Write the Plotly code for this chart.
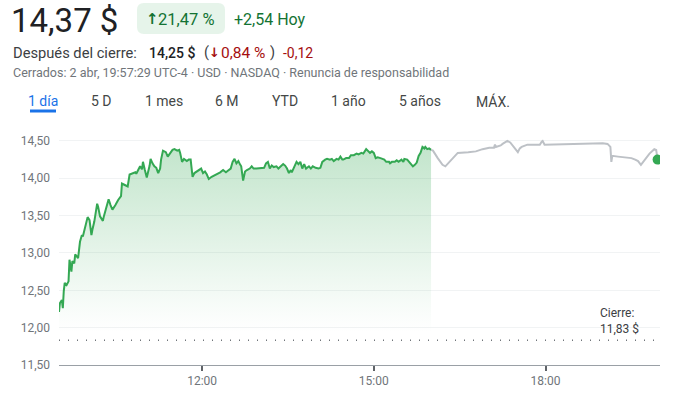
import plotly.graph_objects as go

# ---------------- data ----------------
DAY = "2025-04-02"
reg_times = ["09:30","09:31","09:33","09:34","09:35","09:36","09:38","09:40","09:41","09:43","09:44","09:46","09:47","09:50",
             "09:52","09:54","09:55","09:57","10:00","10:02","10:04","10:05","10:07","10:10","10:11","10:13","10:16","10:17",
             "10:20","10:22","10:24","10:26","10:29","10:30","10:32","10:35","10:36","10:39","10:42","10:44","10:47","10:50",
             "10:51","10:53","10:55","10:57","10:58","11:00","11:02","11:05","11:06","11:08","11:10","11:12","11:14","11:16",
             "11:17","11:19","11:22","11:24","11:27","11:29","11:31","11:34","11:36","11:37","11:39","11:41","11:44","11:46",
             "11:48","11:50","11:52","11:55","11:57","11:59","12:01","12:03","12:05","12:07","12:10","12:13","12:17","12:19",
             "12:22","12:25","12:27","12:30","12:32","12:34","12:36","12:38","12:40","12:41","12:43","12:45","12:47","12:50",
             "12:52","12:54","12:57","12:59","13:02","13:05","13:07","13:09","13:11","13:13","13:15","13:18","13:20","13:22",
             "13:25","13:27","13:29","13:31","13:33","13:34","13:36","13:39","13:41","13:43","13:45","13:47","13:49","13:52",
             "13:54","13:56","13:59","14:02","14:04","14:06","14:09","14:11","14:14","14:16","14:18","14:21","14:23","14:25",
             "14:27","14:28","14:31","14:34","14:36","14:39","14:42","14:44","14:47","14:49","14:52","14:54","14:56","14:58",
             "15:00","15:02","15:04","15:07","15:10","15:11","15:13","15:16","15:17","15:19","15:22","15:24","15:26","15:29",
             "15:31","15:32","15:35","15:37","15:39","15:41","15:43","15:45","15:47","15:49","15:51","15:53","15:54","15:56",
             "15:58","16:00"]
reg_prices = [12.21,12.33,12.37,12.26,12.49,12.60,12.57,12.62,12.91,12.75,12.89,12.86,12.98,12.93,
              13.15,13.24,13.22,13.31,13.48,13.44,13.24,13.31,13.42,13.66,13.62,13.49,13.43,13.49,
              13.64,13.72,13.64,13.58,13.64,13.67,13.71,13.76,13.93,13.91,13.89,14.05,14.07,14.08,
              14.06,14.11,14.16,14.12,14.22,14.11,14.01,14.17,14.26,14.20,14.16,14.14,14.07,14.13,
              14.25,14.37,14.35,14.29,14.34,14.38,14.39,14.37,14.38,14.34,14.22,14.26,14.23,14.25,
              14.25,14.02,14.07,14.10,14.11,14.13,14.07,14.09,14.05,13.99,14.02,14.04,14.06,14.08,
              14.11,14.08,14.10,14.13,14.22,14.26,14.20,14.23,14.18,14.16,13.97,14.09,14.11,14.13,
              14.16,14.13,14.13,14.13,14.13,14.14,14.20,14.22,14.13,14.17,14.15,14.16,14.13,14.16,
              14.19,14.17,14.13,14.07,14.11,14.08,14.13,14.22,14.19,14.22,14.13,14.19,14.13,14.16,
              14.13,14.16,14.14,14.13,14.14,14.22,14.25,14.26,14.25,14.26,14.23,14.26,14.25,14.29,
              14.25,14.25,14.27,14.27,14.31,14.31,14.33,14.32,14.34,14.33,14.39,14.36,14.34,14.36,
              14.34,14.27,14.28,14.27,14.26,14.25,14.22,14.22,14.20,14.22,14.22,14.24,14.22,14.25,
              14.22,14.26,14.25,14.22,14.20,14.16,14.18,14.21,14.30,14.34,14.42,14.40,14.42,14.39,
              14.40,14.38]

ah_times = ["16:00","16:02","16:07","16:12","16:15","16:19","16:25","16:28","16:39","16:47","16:54","17:01","17:06",
            "17:07","17:08","17:13","17:15","17:20","17:23","17:27","17:31","17:33","17:35","17:41","17:54","17:56",
            "17:57","17:59","18:20","18:41","19:00","19:05","19:08","19:09","19:10","19:16","19:23","19:30","19:34",
            "19:37","19:40","19:44","19:49","19:54","19:56","19:57:29"]
ah_prices = [14.38,14.37,14.27,14.18,14.16,14.22,14.31,14.34,14.35,14.36,14.39,14.41,14.41,
             14.45,14.42,14.44,14.46,14.50,14.48,14.42,14.35,14.40,14.42,14.45,14.45,14.49,
             14.50,14.45,14.46,14.47,14.47,14.46,14.42,14.22,14.30,14.29,14.28,14.27,14.25,
             14.23,14.18,14.25,14.33,14.39,14.38,14.25]

prev_close = 11.83
last_close = 14.37
change_pct = 21.47
change_abs = 2.54
ah_price = 14.25
ah_pct = -0.84
ah_abs = -0.12

y_ticks = [11.5, 12.0, 12.5, 13.0, 13.5, 14.0, 14.5]
x_ticks = ["12:00", "15:00", "18:00"]
tabs = ["1 día", "5 D", "1 mes", "6 M", "YTD", "1 año", "5 años", "MÁX."]
info_line = "Cerrados: 2 abr, 19:57:29 UTC-4 · USD · NASDAQ · Renuncia de responsabilidad"

def ts(t):
    return f"{DAY} {t}" if len(t) > 5 else f"{DAY} {t}:00"

def es(v):
    return f"{v:.2f}".replace(".", ",")

# ---------------- figure ----------------
GREEN = "#34a853"
FONT = "Roboto, Arial, sans-serif"
ARROW_FONT = "DejaVu Sans, sans-serif"
W, H = 684, 395
PL, PR, PT, PB = 59, 660, 126, 365

def px(x):
    return (x - PL) / (PR - PL)

def py(y):
    return (PB - y) / (PB - PT)

fig = go.Figure()

fig.add_trace(go.Scatter(
    x=[ts(t) for t in reg_times], y=reg_prices, mode="lines",
    line=dict(color=GREEN, width=2), fill="tozeroy",
    fillgradient=dict(type="vertical", start=11.95, stop=14.45,
                      colorscale=[[0, "rgba(52,168,83,0)"], [0.15, "rgba(52,168,83,0.04)"],
                                  [1, "rgba(52,168,83,0.30)"]]),
    hoverinfo="skip", showlegend=False))

fig.add_trace(go.Scatter(
    x=[ts(t) for t in ah_times], y=ah_prices, mode="lines",
    line=dict(color="#bdc1c6", width=2), hoverinfo="skip", showlegend=False))

fig.add_trace(go.Scatter(
    x=[ts(ah_times[-1])], y=[ah_price], mode="markers",
    marker=dict(color=GREEN, size=10), hoverinfo="skip", showlegend=False))

shapes = []
# previous close dotted line
shapes.append(dict(type="line", xref="paper", yref="y", x0=0, x1=0.995, y0=prev_close, y1=prev_close,
                   line=dict(color="#70757a", width=1.5, dash="1px,8px")))

# rounded pill behind percent change
def rounded_rect(x0, y0, x1, y1, r):
    p = [f"M{px(x0 + r)},{py(y0)}", f"L{px(x1 - r)},{py(y0)}", f"Q{px(x1)},{py(y0)} {px(x1)},{py(y0 + r)}",
         f"L{px(x1)},{py(y1 - r)}", f"Q{px(x1)},{py(y1)} {px(x1 - r)},{py(y1)}",
         f"L{px(x0 + r)},{py(y1)}", f"Q{px(x0)},{py(y1)} {px(x0)},{py(y1 - r)}",
         f"L{px(x0)},{py(y0 + r)}", f"Q{px(x0)},{py(y0)} {px(x0 + r)},{py(y0)}", "Z"]
    return " ".join(p)

shapes.append(dict(type="path", xref="paper", yref="paper", path=rounded_rect(137, 3, 225, 34, 7),
                   fillcolor="#e6f4ea", line=dict(width=0), layer="below"))
# active tab underline
shapes.append(dict(type="line", xref="paper", yref="paper", x0=px(30), x1=px(56), y0=py(111), y1=py(111),
                   line=dict(color="#1a73e8", width=3)))

ann = []
def add_text(text, x, y, size, color, anchor="left", weight=None, family=FONT):
    f = dict(family=family, size=size, color=color)
    if weight:
        f["weight"] = weight
    ann.append(dict(text=text, x=px(x), y=py(y), xref="paper", yref="paper", xanchor=anchor,
                    yanchor="middle", showarrow=False, font=f, align="left", borderpad=0))

add_text(f"{es(last_close)} $", 10, 20, 33, "#202124")
add_text("<b>↑</b>", 145, 19, 15, "#137333", family=ARROW_FONT)
add_text(f"{es(change_pct)} %", 157, 19, 16.5, "#137333")
add_text(f"+{es(change_abs)} Hoy", 233, 19, 16, "#137333")
add_text("Después del cierre:", 12, 53, 14.7, "#3c4043")
add_text(f"{es(ah_price)} $", 148, 53, 14, "#202124", weight=500)
add_text("(", 203, 53, 14.5, "#3c4043")
add_text("<b>↓</b>", 208, 53, 13, "#a50e0e", family=ARROW_FONT)
add_text(f"{es(abs(ah_pct))} %", 220, 53, 15.5, "#a50e0e")
add_text(")", 269, 53, 14.5, "#3c4043")
add_text(f"{es(ah_abs)}", 282, 53, 14, "#a50e0e")
add_text(info_line, 12, 72, 12.5, "#70757a")

tab_centers = [43, 101.5, 163.5, 227, 284.5, 348, 420, 492.5]
for i, (lab, cx) in enumerate(zip(tabs, tab_centers)):
    add_text(lab, cx, 101, 14, "#1a73e8" if i == 0 else "#444746", anchor="center")

add_text(f"Cierre:<br>{es(prev_close)} $", 599, 321, 12, "#3c4043")

fig.update_layout(
    width=W, height=H, margin=dict(l=PL, r=W - PR, t=PT, b=H - PB),
    paper_bgcolor="white", plot_bgcolor="white", separators=",.",
    font=dict(family=FONT, size=12, color="#70757a"),
    shapes=shapes, annotations=ann, hovermode=False, showlegend=False,
    xaxis=dict(type="date", range=[ts("09:30"), ts("20:00")], tickvals=[ts(t) for t in x_ticks],
               tickformat="%H:%M", showgrid=False, zeroline=False, showline=True, linecolor="#9aa0a6",
               linewidth=1, ticks="outside", ticklen=5, tickwidth=2, tickcolor="#5f6368",
               tickfont=dict(family=FONT, size=12, color="#70757a"), fixedrange=True, automargin=False),
    yaxis=dict(range=[11.5, 14.7], tickvals=y_ticks, tickformat=".2f", showgrid=True, gridcolor="#f1f3f4",
               gridwidth=1, zeroline=False, showline=False, ticks="", ticklabelstandoff=8,
               tickfont=dict(family=FONT, size=12, color="#70757a"), fixedrange=True, automargin=False),
)

fig.write_html("out.html", config={"displayModeBar": False})
